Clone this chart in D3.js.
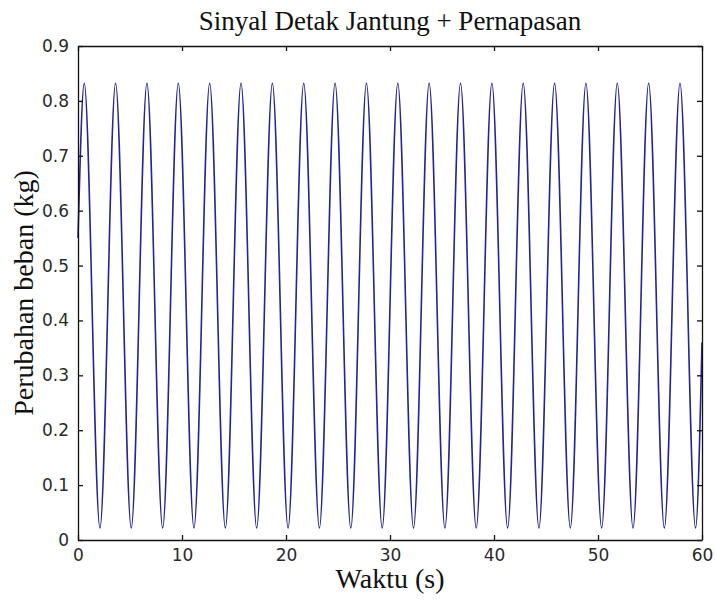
<!DOCTYPE html>
<html>
<head>
<meta charset="utf-8">
<script src="https://cdn.jsdelivr.net/npm/d3@7"></script>
<style>
  html, body { margin: 0; padding: 0; background: #fff; }
  svg { display: block; }
  .tick text { font-family: "DejaVu Sans", sans-serif; font-size: 17px; fill: #2a2a2a; }
  .label { font-family: "Liberation Serif", "Times New Roman", serif; fill: #111; }
</style>
</head>
<body>
<svg id="chart"></svg>
<script>
// extrema of the signal (time in s, value in kg)
const times = [
  0, 0.6, 2.11, 3.615, 5.12, 6.63, 8.14, 9.645, 11.15, 12.66, 14.17,
  15.675, 17.18, 18.69, 20.2, 21.705, 23.21, 24.72, 26.23, 27.735, 29.25,
  30.75, 32.26, 33.765, 35.28, 36.78, 38.29, 39.795, 41.31, 42.81, 44.32,
  45.825, 47.34, 48.84, 50.35, 51.855, 53.37, 54.87, 56.38, 57.885, 59.38, 60
];
const values = [
  0.55, 0.832, 0.022, 0.832, 0.022, 0.832, 0.022, 0.832, 0.022, 0.832, 0.022,
  0.832, 0.022, 0.832, 0.022, 0.832, 0.022, 0.832, 0.022, 0.832, 0.022,
  0.832, 0.022, 0.832, 0.022, 0.832, 0.022, 0.832, 0.022, 0.832, 0.022,
  0.832, 0.022, 0.832, 0.022, 0.832, 0.022, 0.832, 0.022, 0.832, 0.022, 0.36
];
const xTicks = [0, 10, 20, 30, 40, 50, 60];
const yTicks = [0, 0.1, 0.2, 0.3, 0.4, 0.5, 0.6, 0.7, 0.8, 0.9];

const width = 715;
const height = 602;
const margin = { top: 46, right: 13, bottom: 62, left: 78 };
const innerWidth = width - margin.left - margin.right;
const innerHeight = height - margin.top - margin.bottom;

const svg = d3.select("#chart").attr("width", width).attr("height", height);
const chart = svg.append("g").attr("transform", `translate(${margin.left},${margin.top})`);

const x = d3.scaleLinear().domain([0, 60]).range([0, innerWidth]);
const y = d3.scaleLinear().domain([0, 0.9]).range([innerHeight, 0]);

const data = times.map((t, i) => ({ t, v: values[i] }));

const line = d3.line()
  .x((d) => x(d.t))
  .y((d) => y(d.v))
  .curve(d3.curveMonotoneX);

chart.append("path")
  .datum(data)
  .attr("fill", "none")
  .attr("stroke", "#25258f")
  .attr("stroke-width", 1.6)
  .attr("d", line);

const fmtY = (d) => (d === 0 ? "0" : d3.format(".1f")(d));

// MATLAB-style box with inward ticks on all four sides
const tickLen = 5;
const axisStyle = (g) => {
  g.select(".domain").attr("stroke", "#111").attr("stroke-width", 1.3);
  g.selectAll(".tick line").attr("stroke", "#111").attr("stroke-width", 1.3);
};

chart.append("g")
  .attr("transform", `translate(0,${innerHeight})`)
  .call(d3.axisBottom(x).tickValues(xTicks).tickSize(-tickLen).tickPadding(9).tickSizeOuter(0))
  .call(axisStyle)
  .call((g) => g.attr("font-family", null).attr("font-size", null));

chart.append("g")
  .call(d3.axisTop(x).tickValues(xTicks).tickSize(-tickLen).tickFormat("").tickSizeOuter(0))
  .call(axisStyle);

chart.append("g")
  .call(d3.axisLeft(y).tickValues(yTicks).tickFormat(fmtY).tickSize(-tickLen).tickPadding(9).tickSizeOuter(0))
  .call(axisStyle)
  .call((g) => g.attr("font-family", null).attr("font-size", null));

chart.append("g")
  .attr("transform", `translate(${innerWidth},0)`)
  .call(d3.axisRight(y).tickValues(yTicks).tickSize(-tickLen).tickFormat("").tickSizeOuter(0))
  .call(axisStyle);

svg.append("text")
  .attr("class", "label")
  .attr("x", margin.left + innerWidth / 2)
  .attr("y", 30)
  .attr("text-anchor", "middle")
  .attr("font-size", 27)
  .text("Sinyal Detak Jantung + Pernapasan");

svg.append("text")
  .attr("class", "label")
  .attr("x", margin.left + innerWidth / 2)
  .attr("y", 588)
  .attr("text-anchor", "middle")
  .attr("font-size", 28)
  .text("Waktu (s)");

svg.append("text")
  .attr("class", "label")
  .attr("transform", "rotate(-90)")
  .attr("x", -(margin.top + innerHeight / 2))
  .attr("y", 33)
  .attr("text-anchor", "middle")
  .attr("font-size", 28)
  .text("Perubahan beban (kg)");
</script>
</body>
</html>
